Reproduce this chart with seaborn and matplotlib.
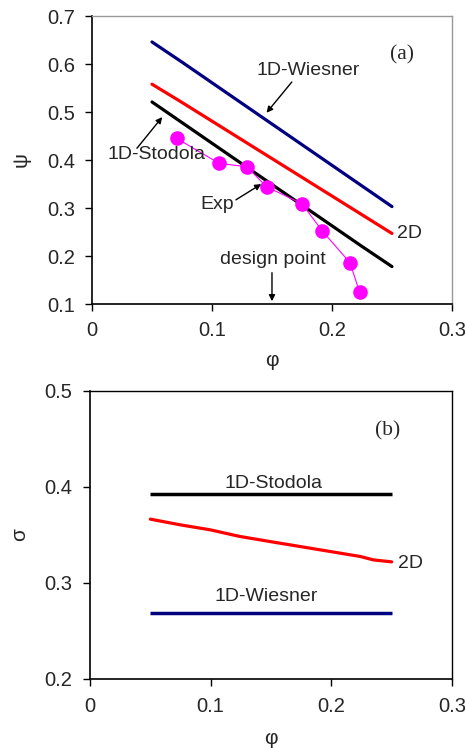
import matplotlib
matplotlib.use("Agg")
import matplotlib.pyplot as plt
import seaborn as sns
import pandas as pd

sns.set_theme(style="white")
plt.rcParams["font.family"] = ["Liberation Sans", "DejaVu Sans"]

# (a) head coefficient vs flow coefficient
phi_line = [0.05, 0.075, 0.10, 0.125, 0.15, 0.175, 0.20, 0.225, 0.25]
psi_wiesner = [0.646, 0.604, 0.561, 0.518, 0.475, 0.432, 0.389, 0.346, 0.303]
psi_2d = [0.558, 0.520, 0.481, 0.442, 0.403, 0.364, 0.325, 0.286, 0.247]
psi_stodola = [0.521, 0.478, 0.435, 0.392, 0.349, 0.306, 0.263, 0.220, 0.178]
phi_exp = [0.0706, 0.106, 0.129, 0.1456, 0.175, 0.192, 0.215, 0.223]
psi_exp = [0.445, 0.393, 0.386, 0.344, 0.309, 0.252, 0.186, 0.125]

# (b) slip factor vs flow coefficient
phi_b = [0.05, 0.0746, 0.0995, 0.124, 0.149, 0.174, 0.199, 0.224, 0.235, 0.25]
sigma_2d = [0.3665, 0.3606, 0.3554, 0.3485, 0.3432, 0.338, 0.3328, 0.3276, 0.324, 0.322]
sigma_stodola = 0.3926
sigma_wiesner = 0.2685

NAVY = "#000080"
RED = "#ff0000"
MAGENTA = "#ff00ff"

fig = plt.figure(figsize=(4.66, 7.49), dpi=100)
ax1 = fig.add_axes([0.1974, 0.5941, 0.7725, 0.3845])
ax2 = fig.add_axes([0.1931, 0.0935, 0.7768, 0.3845])

sns.lineplot(x=phi_line, y=psi_wiesner, color=NAVY, lw=2.3, ax=ax1)
sns.lineplot(x=phi_line, y=psi_2d, color=RED, lw=2.3, ax=ax1)
sns.lineplot(x=phi_line, y=psi_stodola, color="black", lw=2.3, ax=ax1)
ax1.plot(phi_exp, psi_exp, color=MAGENTA, lw=0.8, marker="o", ms=9.5,
         markeredgecolor=MAGENTA, zorder=3)

ax1.set_xlim(0, 0.3)
ax1.set_ylim(0.1, 0.7)
ax1.set_xticks([0, 0.1, 0.2, 0.3])
ax1.set_xticklabels(["0", "0.1", "0.2", "0.3"])
ax1.set_yticks([0.1, 0.2, 0.3, 0.4, 0.5, 0.6, 0.7])
ax1.set_yticklabels(["0.1", "0.2", "0.3", "0.4", "0.5", "0.6", "0.7"])
ax1.set_xlabel("φ", fontsize=15, labelpad=8)
ax1.set_ylabel("ψ", fontsize=15, labelpad=12)

arrow = dict(arrowstyle="-|>", color="black", lw=1.0, mutation_scale=9)
fs = 14
ax1.text(0.258, 0.619, "(a)", fontsize=15.5, family="Liberation Serif",
         ha="center", va="center")
ax1.text(0.180, 0.587, "1D-Wiesner", fontsize=fs, ha="center", va="center")
ax1.annotate("", xy=(0.144, 0.494), xytext=(0.168, 0.567), arrowprops=arrow)
ax1.text(0.054, 0.4125, "1D-Stodola", fontsize=fs, ha="center", va="center")
ax1.annotate("", xy=(0.060, 0.494), xytext=(0.036, 0.42), arrowprops=arrow)
ax1.text(0.104, 0.3076, "Exp", fontsize=fs, ha="center", va="center")
ax1.annotate("", xy=(0.143, 0.353), xytext=(0.118, 0.314), arrowprops=arrow)
ax1.text(0.2545, 0.247, "2D", fontsize=fs, ha="left", va="center")
ax1.text(0.1506, 0.192, "design point", fontsize=fs, ha="center", va="center")
ax1.annotate("", xy=(0.150, 0.1), xytext=(0.150, 0.171), arrowprops=arrow)

sns.lineplot(x=phi_b, y=sigma_2d, color=RED, lw=2.3, ax=ax2)
ax2.hlines(sigma_stodola, 0.05, 0.25, color="black", lw=2.5)
ax2.hlines(sigma_wiesner, 0.05, 0.25, color=NAVY, lw=2.5)

ax2.set_xlim(0, 0.3)
ax2.set_ylim(0.2, 0.5)
ax2.set_xticks([0, 0.1, 0.2, 0.3])
ax2.set_xticklabels(["0", "0.1", "0.2", "0.3"])
ax2.set_yticks([0.2, 0.3, 0.4, 0.5])
ax2.set_yticklabels(["0.2", "0.3", "0.4", "0.5"])
ax2.set_xlabel("φ", fontsize=15, labelpad=9)
ax2.set_ylabel("σ", fontsize=15, labelpad=11)

ax2.text(0.247, 0.458, "(b)", fontsize=15.5, family="Liberation Serif",
         ha="center", va="center")
ax2.text(0.1525, 0.404, "1D-Stodola", fontsize=fs, ha="center", va="center")
ax2.text(0.1464, 0.286, "1D-Wiesner", fontsize=fs, ha="center", va="center")
ax2.text(0.2555, 0.32, "2D", fontsize=fs, ha="left", va="center")

for ax, frame, pad in [(ax1, "#999999", 7), (ax2, "black", 8)]:
    ax.tick_params(direction="out", length=5, width=1.0, color="black",
                   labelsize=14.5, pad=pad, bottom=True, left=True)
    for side in ["left", "bottom"]:
        ax.spines[side].set_color("black")
        ax.spines[side].set_linewidth(1.2)
    for side in ["top", "right"]:
        ax.spines[side].set_color(frame)
        ax.spines[side].set_linewidth(1.0)
    ax.grid(False)

fig.savefig("out.png", dpi=100)
